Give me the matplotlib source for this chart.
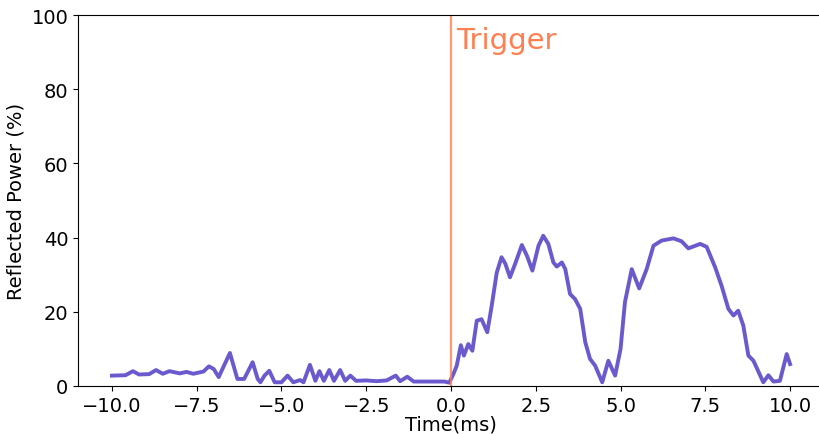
import matplotlib
matplotlib.use("Agg")
import matplotlib.pyplot as plt

# points
time_ms = [-10.0, -9.6, -9.38, -9.2, -8.9, -8.7, -8.5, -8.3, -8.0, -7.8, -7.6, -7.3, -7.14, -7.0,
           -6.85, -6.75, -6.52, -6.3, -6.1, -5.85, -5.7, -5.62, -5.5, -5.36, -5.2, -5.0, -4.82,
           -4.65, -4.45, -4.35, -4.16, -4.0, -3.88, -3.75, -3.59, -3.45, -3.27, -3.12, -2.97,
           -2.8, -2.5, -2.2, -1.9, -1.63, -1.5, -1.29, -1.1, -0.6, -0.2, -0.05, 0.07, 0.17,
           0.29, 0.38, 0.51, 0.63, 0.76, 0.9, 1.07, 1.2, 1.35, 1.49, 1.6, 1.74, 1.89, 2.09,
           2.24, 2.40, 2.58, 2.72, 2.87, 3.02, 3.12, 3.27, 3.37, 3.51, 3.66, 3.81, 3.96, 4.10,
           4.25, 4.46, 4.64, 4.84, 5.0, 5.13, 5.33, 5.55, 5.77, 5.97, 6.21, 6.56, 6.8, 7.0,
           7.35, 7.54, 7.79, 7.98, 8.18, 8.33, 8.47, 8.62, 8.77, 8.92, 9.21, 9.36, 9.51, 9.70,
           9.90, 10.0]
reflected = [2.8, 2.9, 4.0, 3.1, 3.2, 4.3, 3.3, 4.0, 3.4, 3.8, 3.3, 3.9, 5.3, 4.6,
             2.4, 4.4, 8.9, 1.9, 1.9, 6.4, 1.9, 1.0, 2.8, 4.1, 1.0, 1.0, 2.8,
             1.0, 1.6, 1.0, 5.7, 1.4, 4.0, 1.4, 4.3, 1.4, 4.3, 1.4, 2.8,
             1.4, 1.5, 1.3, 1.5, 2.8, 1.3, 2.5, 1.2, 1.2, 1.2, 0.9, 3.2, 5.5,
             11.0, 8.2, 11.3, 9.5, 17.6, 18.0, 14.5, 21.6, 30.6, 34.7, 33.0, 29.3, 32.9, 38.0,
             35.1, 31.1, 37.8, 40.5, 38.3, 33.3, 32.2, 33.3, 31.5, 24.8, 23.4, 20.8, 11.8, 7.3,
             5.5, 1.0, 6.8, 2.8, 10.0, 22.6, 31.5, 26.3, 31.5, 37.8, 39.2, 39.8, 39.0, 37.1,
             38.3, 37.5, 32.0, 27.0, 20.8, 19.0, 20.3, 16.3, 8.2, 6.8, 1.0, 2.9, 1.2, 1.4,
             8.6, 5.9]

fig = plt.figure(figsize=(8.19, 4.35), dpi=100)
ax = fig.add_axes([78 / 819, 48 / 435, 746 / 819, 371 / 435])

ax.plot(time_ms, reflected, color="slateblue", linewidth=2.8)
ax.axvline(0, color="coral", alpha=0.8, linewidth=1.6)
ax.text(0.15, 97, "Trigger", color="coral", fontsize=21, va="top")

ax.set_xlim(-11, 11)
ax.set_ylim(0, 100)
ax.set_xticks([-10, -7.5, -5, -2.5, 0, 2.5, 5, 7.5, 10])
ax.tick_params(labelsize=14)
ax.set_xlabel("Time(ms)", fontsize=14, labelpad=0)
ax.set_ylabel("Reflected Power (%)", fontsize=14)

fig.savefig("out.png", dpi=100)
